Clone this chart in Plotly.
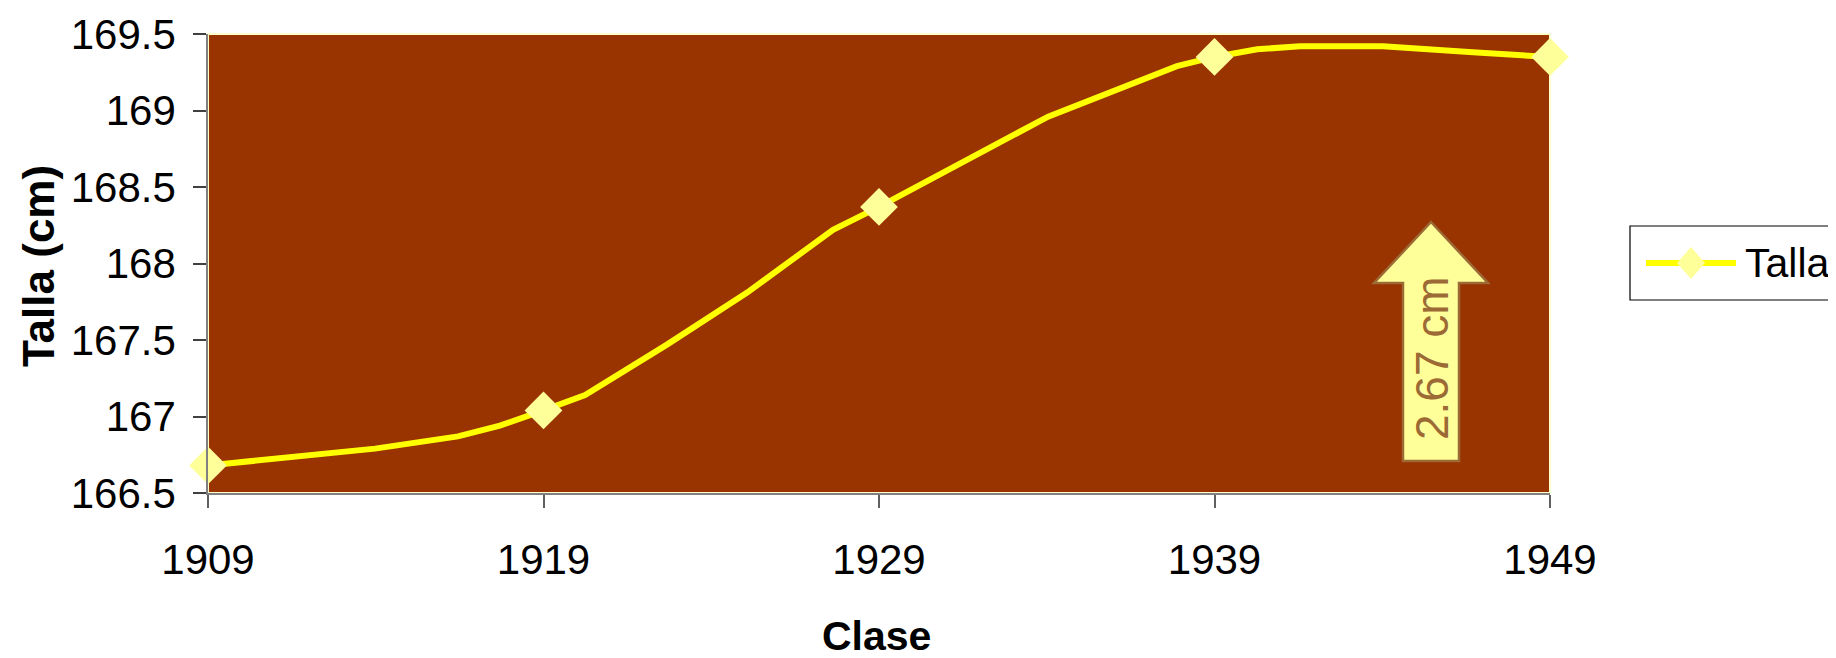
import plotly.graph_objects as go

# ---- data ----
years = [1909, 1911.44, 1913.98, 1916.45, 1917.7, 1919, 1920.24, 1922.68, 1925.07,
         1927.63, 1929, 1934.04, 1935.29, 1937.88, 1939, 1940.27, 1941.55, 1944.02,
         1946.7, 1949]
talla = [166.68, 166.73, 166.79, 166.87, 166.94, 167.04, 167.14, 167.47, 167.81,
         168.22, 168.37, 168.96, 169.07, 169.29, 169.35, 169.40, 169.42, 169.42,
         169.38, 169.35]
marker_years = [1909, 1919, 1929, 1939, 1949]
x_ticks = [1909, 1919, 1929, 1939, 1949]
y_ticks = [166.5, 167, 167.5, 168, 168.5, 169, 169.5]
series_name = "Talla"
diff_label = "2.67 cm"

marker_talla = [talla[years.index(y)] for y in marker_years]

# ---- geometry (screen pixels; page body adds an 8px offset) ----
OFF = 8
W, H = 1836 - OFF, 658 - OFF
SL, SR, ST, SB = 208, 1550, 34, 493          # plot area on screen
FONT = "Liberation Sans, Arial, sans-serif"


def fx(px):
    return (px - SL) / (SR - SL)


def fy(py):
    return (SB - py) / (SB - ST)


fig = go.Figure()
fig.add_trace(go.Scatter(
    x=years, y=talla, mode="lines", name=series_name,
    line=dict(color="#FFFF00", width=6), cliponaxis=False, showlegend=False,
    hoverinfo="skip"))
fig.add_trace(go.Scatter(
    x=marker_years, y=marker_talla, mode="markers", name=series_name,
    marker=dict(symbol="diamond", size=29, color="#FFFF99", line=dict(width=0)),
    cliponaxis=False, showlegend=False))

shapes = []
shapes.append(dict(type="rect", xref="paper", yref="paper", x0=0, x1=1, y0=0, y1=1,
                   line=dict(color="#FFFFCC", width=2), layer="below"))

# block arrow
pts = [(1431, 222), (1488, 283), (1459, 283), (1459, 461), (1403, 461), (1403, 283), (1374, 283)]
path = "M " + " L ".join(f"{fx(a):.5f},{fy(b):.5f}" for a, b in pts) + " Z"
shapes.append(dict(type="path", xref="paper", yref="paper", path=path,
                   fillcolor="#FFFF99", line=dict(color="#9C6A35", width=2.5)))

# legend box
shapes.append(dict(type="rect", xref="paper", yref="paper",
                   x0=fx(1630), x1=fx(1860), y0=fy(300), y1=fy(226),
                   line=dict(color="#000000", width=1.2), fillcolor="white"))
shapes.append(dict(type="line", xref="paper", yref="paper",
                   x0=fx(1646), x1=fx(1736), y0=fy(263), y1=fy(263),
                   line=dict(color="#FFFF00", width=6)))
dpts = [(1691, 247), (1705, 263), (1691, 279), (1677, 263)]
dpath = "M " + " L ".join(f"{fx(a):.5f},{fy(b):.5f}" for a, b in dpts) + " Z"
shapes.append(dict(type="path", xref="paper", yref="paper", path=dpath,
                   fillcolor="#FFFF99", line=dict(width=0)))

annotations = [
    dict(text=diff_label, xref="paper", yref="paper", x=fx(1432), y=fy(358),
         textangle=-90, showarrow=False, xanchor="center", yanchor="middle",
         font=dict(family=FONT, size=46, color="#9C6A35")),
    dict(text=series_name, xref="paper", yref="paper", x=fx(1743), y=fy(263),
         showarrow=False, xanchor="left", yanchor="middle",
         font=dict(family=FONT, size=41, color="#000000")),
    dict(text="<b>Talla (cm)</b>", xref="paper", yref="paper", x=fx(38), y=fy(266),
         textangle=-90, showarrow=False, xanchor="center", yanchor="middle",
         font=dict(family=FONT, size=44, color="#000000")),
    dict(text="<b>Clase</b>", xref="paper", yref="paper", x=fx(876), y=fy(636),
         showarrow=False, xanchor="center", yanchor="middle",
         font=dict(family=FONT, size=41, color="#000000")),
]

fig.update_layout(
    width=W, height=H,
    margin=dict(l=SL - OFF, r=W - (SR - OFF), t=ST - OFF, b=H - (SB - OFF), autoexpand=False),
    paper_bgcolor="white", plot_bgcolor="#993300",
    font=dict(family=FONT, size=42, color="#000000"),
    showlegend=False,
    shapes=shapes, annotations=annotations,
)
fig.update_xaxes(
    range=[1909, 1949], tickvals=x_ticks, ticktext=[str(t) for t in x_ticks],
    showgrid=False, zeroline=False, showline=True, linecolor="#808080", linewidth=1.5,
    ticks="outside", ticklen=13, tickcolor="#606060", tickwidth=1.5,
    tickfont=dict(family=FONT, size=42, color="#000000"), ticklabelstandoff=16)
fig.update_yaxes(
    range=[166.5, 169.5], tickvals=y_ticks,
    showgrid=False, zeroline=False, showline=True, linecolor="#808080", linewidth=1.5,
    ticks="outside", ticklen=13, tickcolor="#404040", tickwidth=1.5,
    tickfont=dict(family=FONT, size=42, color="#000000"), ticklabelstandoff=9)

fig.write_html("out.html")
